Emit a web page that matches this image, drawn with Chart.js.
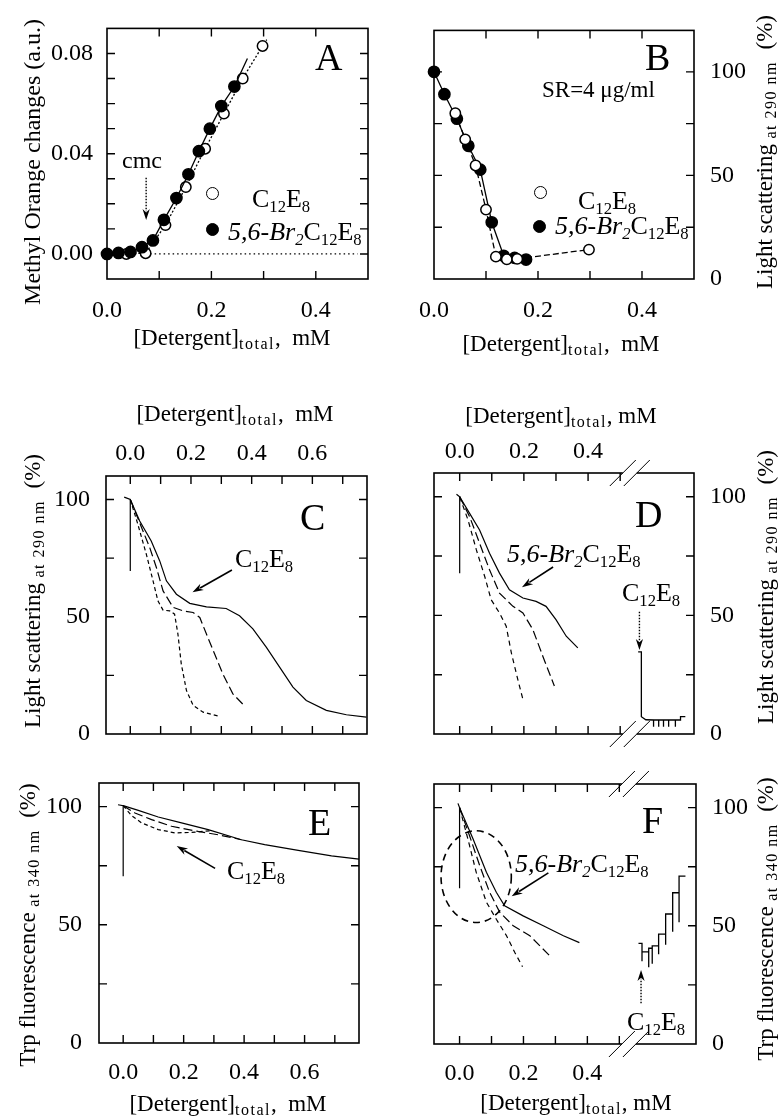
<!DOCTYPE html>
<html>
<head>
<meta charset="utf-8">
<script src="https://cdn.jsdelivr.net/npm/chart.js@4.4.1/dist/chart.umd.min.js"></script>
<style>
  body { margin: 0; background: #fff; }
  #page { position: relative; width: 780px; height: 1120px; overflow: hidden;
          font-family: "Liberation Serif", "Times New Roman", serif; color: #000; }
  canvas { position: absolute; left: 0; top: 0; }
  .t { position: absolute; white-space: nowrap; line-height: 1; }
  .t sub, .r sub { font-size: 0.64em; position: relative; top: 0.3em; vertical-align: baseline; line-height: 0; }
  sub.w { font-size: 16px; letter-spacing: 1.5px; top: 0.28em; }
  .r { position: absolute; white-space: nowrap; line-height: 1; transform: translate(-50%, -50%) rotate(-90deg); }
  .dot { position: absolute; border-radius: 50%; box-sizing: border-box; border: 1.8px solid #000; }
</style>
</head>
<body>
<div id="page"></div>
<script>
// ---- panel A : methyl orange ----
const aBrX = [0, 0.022, 0.045, 0.067, 0.088, 0.109, 0.133, 0.156, 0.176, 0.197, 0.219, 0.244, 0.269];
const aBrY = [0, 0.0004, 0.0008, 0.0027, 0.0054, 0.0136, 0.0223, 0.0318, 0.041, 0.050, 0.059, 0.0668, 0.078];
const aOpenX = [0.037, 0.074, 0.112, 0.151, 0.188, 0.224, 0.260, 0.298, 0.306];
const aOpenY = [0, 0.0003, 0.0115, 0.0267, 0.042, 0.056, 0.070, 0.083, 0.0855];
const aBaseX = [0.074, 0.48];
const aBaseY = [0, 0];

// ---- panel B : light scattering, points ----
const bBrX = [0, 0.020, 0.044, 0.066, 0.089, 0.111, 0.134, 0.155, 0.177];
const bBrY = [100, 89.2, 77.4, 64.3, 52.8, 27.4, 11.2, 10.2, 9.4];
const bOpenX = [0.041, 0.060, 0.080, 0.100, 0.119, 0.140, 0.160, 0.298];
const bOpenY = [80, 67.4, 54.8, 33.5, 10.8, 9.5, 9.7, 14.2];

// ---- panel C : light scattering traces, C12E8 ----
const cSpikeX = [-0.02, 0, 0];
const cSpikeY = [101, 100, 69.5];
const cSolidX = [0, 0.031, 0.069, 0.097, 0.119, 0.152, 0.196, 0.251, 0.316, 0.36, 0.404, 0.448, 0.492, 0.536, 0.58, 0.646, 0.712, 0.778];
const cSolidY = [100, 90.8, 82.3, 73.8, 65.3, 59.6, 55.7, 54.2, 53.5, 50.4, 44.8, 37, 28.5, 20, 14.3, 10.1, 8.2, 7.2];
const cLongX = [0, 0.031, 0.064, 0.086, 0.108, 0.141, 0.174, 0.207, 0.229, 0.251, 0.278, 0.305, 0.338, 0.377];
const cLongY = [100, 90, 79.5, 71, 61, 54, 52.5, 51.8, 49.7, 42.6, 34.1, 25.6, 17.1, 11.9];
const cShortX = [0, 0.025, 0.053, 0.075, 0.091, 0.108, 0.13, 0.146, 0.157, 0.168, 0.185, 0.207, 0.24, 0.295];
const cShortY = [100, 89.4, 76.6, 65.3, 56.8, 52.8, 52.5, 51.1, 42.6, 29.9, 18.6, 12.2, 9.3, 7.5];

// ---- panel D : light scattering traces, Br2 + C12E8 after break ----
const dSpikeX = [-0.01, 0, 0];
const dSpikeY = [101, 100, 67.8];
const dSolidX = [0, 0.031, 0.062, 0.093, 0.124, 0.155, 0.197, 0.238, 0.269, 0.30, 0.332, 0.368];
const dSolidY = [100, 93, 86, 76.2, 67.8, 60.8, 57.3, 55.9, 53.8, 48.2, 41.2, 36.3];
const dLongX = [0, 0.031, 0.062, 0.093, 0.124, 0.166, 0.197, 0.228, 0.259, 0.295];
const dLongY = [100, 91.6, 80.4, 69.2, 59.4, 53.8, 51, 44, 32.8, 20.2];
const dShortX = [0, 0.026, 0.052, 0.078, 0.098, 0.124, 0.145, 0.161, 0.181, 0.197];
const dShortY = [100, 90.2, 77.6, 66.4, 56.6, 51, 45.4, 34.2, 23, 14.6];
const dC12X = [0.556, 0.566, 0.566, 0.58, 0.604, 0.604, 0.604, 0.620, 0.620, 0.620, 0.635, 0.635, 0.635, 0.651, 0.651, 0.651, 0.672, 0.672, 0.672, 0.688, 0.688, 0.703];
const dC12Y = [34.6, 34.6, 7.3, 6.0, 5.9, 3.1, 5.9, 5.9, 3.1, 5.9, 5.9, 3.1, 5.9, 5.9, 3.1, 5.9, 5.9, 3.1, 5.9, 5.9, 7.3, 7.3];

// ---- panel E : Trp fluorescence, C12E8 ----
const eSpikeX = [-0.017, 0, 0];
const eSpikeY = [100.8, 100.4, 70.6];
const eSolidX = [0, 0.050, 0.116, 0.193, 0.281, 0.391, 0.468, 0.579, 0.689, 0.78];
const eSolidY = [100.4, 98.4, 95.6, 93.1, 90.3, 86.0, 83.9, 81.5, 79.2, 77.8];
const eLongX = [0, 0.039, 0.094, 0.160, 0.248, 0.314, 0.391];
const eLongY = [100.4, 97.3, 94.5, 91.7, 89.5, 88.1, 86.0];
const eShortX = [0, 0.028, 0.061, 0.116, 0.171, 0.226, 0.29];
const eShortY = [100.4, 96.2, 93.1, 90.3, 88.9, 89.1, 89.8];

// ---- panel F : Trp fluorescence, Br2 + C12E8 after break ----
const fSpikeX = [-0.005, 0, 0];
const fSpikeY = [101.8, 100, 65.9];
const fSolidX = [0, 0.042, 0.084, 0.115, 0.141, 0.199, 0.262, 0.325, 0.375];
const fSolidY = [100, 86.8, 72.7, 64.2, 58.5, 54.2, 50, 45.8, 42.9];
const fLongX = [0, 0.031, 0.063, 0.094, 0.126, 0.168, 0.22, 0.281];
const fLongY = [100, 88.2, 75.5, 64.2, 55.7, 50, 45.8, 37.5];
const fShortX = [0, 0.026, 0.052, 0.084, 0.115, 0.147, 0.173, 0.197];
const fShortY = [100, 86.8, 72.7, 60, 52.8, 45.8, 38.7, 32.7];
const fC12X = [0.560, 0.571, 0.571, 0.571, 0.592, 0.592, 0.592, 0.603, 0.603, 0.603, 0.623, 0.623, 0.623, 0.645, 0.645, 0.645, 0.667, 0.667, 0.667, 0.687, 0.687, 0.687, 0.707];
const fC12Y = [42.6, 42.6, 35.0, 39.0, 39.0, 32.5, 40.5, 40.5, 34.0, 41.5, 41.5, 38.0, 46.5, 46.5, 42.0, 55.0, 55.0, 47.5, 64.0, 64.0, 51.5, 71.0, 71.0];

// ---- ticks ----
const abXTicks = [0, 0.1, 0.2, 0.3, 0.4];
const abXLabels = ['0.0', '0.2', '0.4'];
const aYTicks = [0, 0.01, 0.02, 0.03, 0.04, 0.05, 0.06, 0.07, 0.08];
const aYLabels = ['0.00', '0.04', '0.08'];
const pctTicks = [0, 25, 50, 75, 100];
const pctLabels = ['0', '50', '100'];
const ceXTicks = [0, 0.1, 0.2, 0.3, 0.4, 0.5, 0.6, 0.7];
const ceXLabels = ['0.0', '0.2', '0.4', '0.6'];
const dfXTicks = [0, 0.1, 0.2, 0.3, 0.4, 0.5];
const dfXLabels = ['0.0', '0.2', '0.4'];

Chart.defaults.font.family = '"Liberation Serif", "Times New Roman", serif';
Chart.defaults.font.size = 24;
Chart.defaults.color = '#000';

const page = document.getElementById('page');
const AXW = 80;   // room kept for vertical tick labels
const AXH = 50;   // room kept for horizontal tick labels

// frame, inward ticks, axis breaks, arrows, ellipse
Chart.register({
  id: 'deco',
  afterDatasetsDraw(chart, args, o) {
    const { ctx, chartArea: a } = chart;
    const x = chart.scales.x, y = chart.scales.y;
    ctx.save();
    ctx.strokeStyle = '#000';
    ctx.lineWidth = 1.6;
    ctx.strokeRect(a.left, a.top, a.right - a.left, a.bottom - a.top);
    ctx.lineWidth = 1.4;
    ctx.beginPath();
    x.ticks.forEach(t => {
      const p = x.getPixelForValue(t.value);
      if (p < a.left + 2 || p > a.right - 2) return;
      ctx.moveTo(p, a.bottom); ctx.lineTo(p, a.bottom - 8);
      ctx.moveTo(p, a.top); ctx.lineTo(p, a.top + 8);
    });
    y.ticks.forEach(t => {
      const p = y.getPixelForValue(t.value);
      if (p < a.top + 2 || p > a.bottom - 2) return;
      ctx.moveTo(a.left, p); ctx.lineTo(a.left + 8, p);
      ctx.moveTo(a.right, p); ctx.lineTo(a.right - 8, p);
    });
    ctx.stroke();

    if (o.breakAt != null) {
      const bx = x.getPixelForValue(o.breakAt);
      [a.top, a.bottom].forEach(ey => {
        ctx.fillStyle = '#fff';
        ctx.fillRect(bx - 7, ey - 2, 14, 4);
        ctx.lineWidth = 1;
        ctx.beginPath();
        [-7, 7].forEach(off => {
          ctx.moveTo(bx + off - 13, ey + 13);
          ctx.lineTo(bx + off + 13, ey - 13);
        });
        ctx.stroke();
      });
    }

    (o.arrows || []).forEach(ar => {
      const x0 = x.getPixelForValue(ar.from[0]), y0 = y.getPixelForValue(ar.from[1]);
      const x1 = x.getPixelForValue(ar.to[0]), y1 = y.getPixelForValue(ar.to[1]);
      const ang = Math.atan2(y1 - y0, x1 - x0);
      const hl = 11, hw = 3.6;
      ctx.lineWidth = ar.dotted ? 1.4 : 1.6;
      ctx.setLineDash(ar.dotted ? [1.5, 1.5] : []);
      ctx.beginPath();
      ctx.moveTo(x0, y0);
      ctx.lineTo(x1 - Math.cos(ang) * hl * 0.8, y1 - Math.sin(ang) * hl * 0.8);
      ctx.stroke();
      ctx.setLineDash([]);
      ctx.fillStyle = '#000';
      ctx.beginPath();
      ctx.moveTo(x1, y1);
      ctx.lineTo(x1 - Math.cos(ang) * hl - Math.sin(ang) * hw, y1 - Math.sin(ang) * hl + Math.cos(ang) * hw);
      ctx.lineTo(x1 - Math.cos(ang) * hl * 0.7, y1 - Math.sin(ang) * hl * 0.7);
      ctx.lineTo(x1 - Math.cos(ang) * hl + Math.sin(ang) * hw, y1 - Math.sin(ang) * hl - Math.cos(ang) * hw);
      ctx.closePath();
      ctx.fill();
    });

    if (o.ellipse) {
      const e = o.ellipse;
      const cx = x.getPixelForValue(e.x), cy = y.getPixelForValue(e.y);
      const rx = Math.abs(x.getPixelForValue(e.x + e.rx) - cx);
      const ry = Math.abs(y.getPixelForValue(e.y + e.ry) - cy);
      ctx.lineWidth = 1.6;
      ctx.setLineDash([7, 5]);
      ctx.beginPath();
      ctx.ellipse(cx, cy, rx, ry, 0, 0, Math.PI * 2);
      ctx.stroke();
    }
    ctx.restore();
  }
});

function pts(xs, ys) { return xs.map((v, i) => ({ x: v, y: ys[i] })); }

function curve(xs, ys, dash, width) {
  return { data: pts(xs, ys), showLine: true, borderColor: '#000', borderWidth: width || 1.2,
           borderDash: dash || [], pointRadius: 0, tension: 0, clip: false };
}

function marks(xs, ys, filled, dash, unmarked) {
  const n = xs.length - (unmarked || 0);
  return { data: pts(xs, ys), showLine: true, borderColor: '#000', borderWidth: 1.3,
           borderDash: dash || [], tension: 0, clip: false,
           pointRadius: xs.map((v, i) => i < n ? (filled ? 5.6 : 5.2) : 0),
           pointBorderWidth: 1.5, pointBorderColor: '#000',
           pointBackgroundColor: filled ? '#000' : '#fff' };
}

function axis(pos, min, max, ticks, labels, pad) {
  return {
    type: 'linear', position: pos, min: min, max: max,
    grid: { display: false, drawTicks: false }, border: { display: false },
    afterBuildTicks: s => { s.ticks = ticks.map(v => ({ value: v })); },
    afterFit: s => { if (s.isHorizontal()) s.height = AXH; else s.width = AXW; },
    ticks: { padding: pad, autoSkip: false, maxRotation: 0, color: '#000', font: { size: 24 },
      callback: v => { const l = labels.find(s => Math.abs(parseFloat(s) - v) < 1e-9); return l || ''; } }
  };
}

function panel(box, xAxis, yAxis, datasets, deco) {
  const cv = document.createElement('canvas');
  cv.width = 780; cv.height = 1120;
  page.appendChild(cv);
  const pad = {
    left: box[0] - (yAxis.position === 'left' ? AXW : 0),
    right: 780 - box[2] - (yAxis.position === 'right' ? AXW : 0),
    top: box[1] - (xAxis.position === 'top' ? AXH : 0),
    bottom: 1120 - box[3] - (xAxis.position === 'bottom' ? AXH : 0)
  };
  new Chart(cv, {
    type: 'scatter',
    data: { datasets },
    options: {
      responsive: false, animation: false, events: [],
      layout: { autoPadding: false, padding: pad },
      plugins: { legend: { display: false }, tooltip: { enabled: false }, deco: deco || {} },
      scales: { x: xAxis, y: yAxis }
    }
  });
}

// A
panel([107, 20, 368, 279],
  axis('bottom', 0, 0.5, abXTicks, abXLabels, 17),
  axis('left', -0.01, 0.09, aYTicks, aYLabels, 14),
  [marks(aBrX, aBrY, true, [], 1),
   marks(aOpenX, aOpenY, false, [2, 2], 1),
   curve(aBaseX, aBaseY, [1.5, 3], 1.2)],
  { arrows: [{ from: [0.075, 0.0304], to: [0.075, 0.0135], dotted: true }] });

// B
panel([434, 20, 694, 279],
  axis('bottom', 0, 0.5, abXTicks, abXLabels, 17),
  axis('right', 0, 120, pctTicks, pctLabels, 16),
  [marks(bOpenX, bOpenY, false, [6, 3]),
   marks(bBrX, bBrY, true, [])]);

// C
panel([106, 476, 367, 734],
  axis('top', -0.08, 0.78, ceXTicks, ceXLabels, 8),
  axis('left', 0, 110, pctTicks, pctLabels, 16),
  [curve(cSpikeX, cSpikeY),
   curve(cSolidX, cSolidY),
   curve(cLongX, cLongY, [9, 4]),
   curve(cShortX, cShortY, [4, 3])],
  { arrows: [{ from: [0.335, 69.9], to: [0.205, 60.4] }] });

// D
panel([434, 473, 694, 734],
  axis('top', -0.08, 0.73, dfXTicks, dfXLabels, 7),
  axis('right', 0, 110, pctTicks, pctLabels, 16),
  [curve(dSpikeX, dSpikeY),
   curve(dSolidX, dSolidY),
   curve(dLongX, dLongY, [9, 4]),
   curve(dShortX, dShortY, [5, 4]),
   curve(dC12X, dC12Y, [], 1.3)],
  { breakAt: 0.53,
    arrows: [{ from: [0.291, 70.4], to: [0.194, 61.9] },
             { from: [0.560, 51.5], to: [0.560, 35.4], dotted: true }] });

// E
panel([99, 783, 359, 1043],
  axis('bottom', -0.08, 0.78, ceXTicks, ceXLabels, 15),
  axis('left', 0, 110, pctTicks, pctLabels, 17),
  [curve(eSpikeX, eSpikeY),
   curve(eSolidX, eSolidY),
   curve(eLongX, eLongY, [9, 4]),
   curve(eShortX, eShortY, [4, 3])],
  { arrows: [{ from: [0.304, 73.9], to: [0.177, 83.3] }] });

// F
panel([434, 784, 696, 1044],
  axis('bottom', -0.08, 0.74, dfXTicks, dfXLabels, 15),
  axis('right', 0, 110, pctTicks, pctLabels, 16),
  [curve(fSpikeX, fSpikeY),
   curve(fSolidX, fSolidY),
   curve(fLongX, fLongY, [9, 4]),
   curve(fShortX, fShortY, [5, 4]),
   curve(fC12X, fC12Y, [], 1.3)],
  { breakAt: 0.53,
    ellipse: { x: 0.052, y: 70.8, rx: 0.110, ry: 19.4 },
    arrows: [{ from: [0.278, 72.4], to: [0.163, 62.5] },
             { from: [0.568, 17.2], to: [0.568, 31.3], dotted: true }] });

// ---- text ----
function T(html, x, base, size, center) {
  const d = document.createElement('div');
  d.className = 't';
  d.innerHTML = html;
  d.style.fontSize = size + 'px';
  d.style.left = x + 'px';
  d.style.top = (base - 0.8375 * size) + 'px';
  if (center) d.style.transform = 'translateX(-50%)';
  page.appendChild(d);
}
function R(html, cx, cy, size) {
  const d = document.createElement('div');
  d.className = 'r';
  d.innerHTML = html;
  d.style.fontSize = size + 'px';
  d.style.left = cx + 'px';
  d.style.top = cy + 'px';
  page.appendChild(d);
}
function dot(cx, cy, filled) {
  const d = document.createElement('div');
  d.className = 'dot';
  d.style.width = d.style.height = '13px';
  d.style.left = (cx - 6.5) + 'px';
  d.style.top = (cy - 6.5) + 'px';
  d.style.background = filled ? '#000' : '#fff';
  page.appendChild(d);
}

const c12 = 'C<sub>12</sub>E<sub>8</sub>';
const br = '<i>5,6-Br</i><sub><i>2</i></sub>C<sub>12</sub>E<sub>8</sub>';
const detW = '[Detergent]<sub class="w">total</sub>,&nbsp; mM';
const det = '[Detergent]<sub class="w">total</sub>, mM';
const ls = 'Light scattering<sub class="w">&nbsp;at 290 nm</sub>&nbsp;&nbsp;(%)';
const trp = 'Trp fluorescence<sub class="w">&nbsp;at 340 nm</sub>&nbsp;&nbsp;(%)';

// A
R('Methyl Orange changes (a.u.)', 32, 162, 24);
T(detW, 232, 345, 23, true);
T('A', 315, 70, 38);
T('cmc', 142, 168, 24, true);
dot(212, 193, false); T(c12, 252, 208, 26);
dot(212, 229, true); T(br, 228, 241, 26);
// B
R(ls, 764, 152, 23);
T(detW, 561, 351, 23, true);
T('B', 645, 70, 38);
T('SR=4 μg/ml', 542, 97, 23);
dot(540, 192, false); T(c12, 578, 210, 26);
dot(539, 226, true); T(br, 555, 235, 26);
// C
R(ls, 32, 591, 23);
T(detW, 235, 421, 23, true);
T('C', 300, 530, 38);
T(c12, 235, 568, 26);
// D
R(ls, 765, 587, 23);
T(det, 561, 423, 23, true);
T('D', 635, 527, 38);
T(br, 507, 563, 26);
T(c12, 622, 602, 26);
// E
R(trp, 27, 925, 23);
T(detW, 228, 1111, 23, true);
T('E', 308, 835, 38);
T(c12, 227, 880, 26);
// F
R(trp, 765, 919, 23);
T(det, 576, 1110, 23, true);
T('F', 642, 833, 38);
T(br, 515, 873, 26);
T(c12, 627, 1031, 26);
</script>
</body>
</html>
